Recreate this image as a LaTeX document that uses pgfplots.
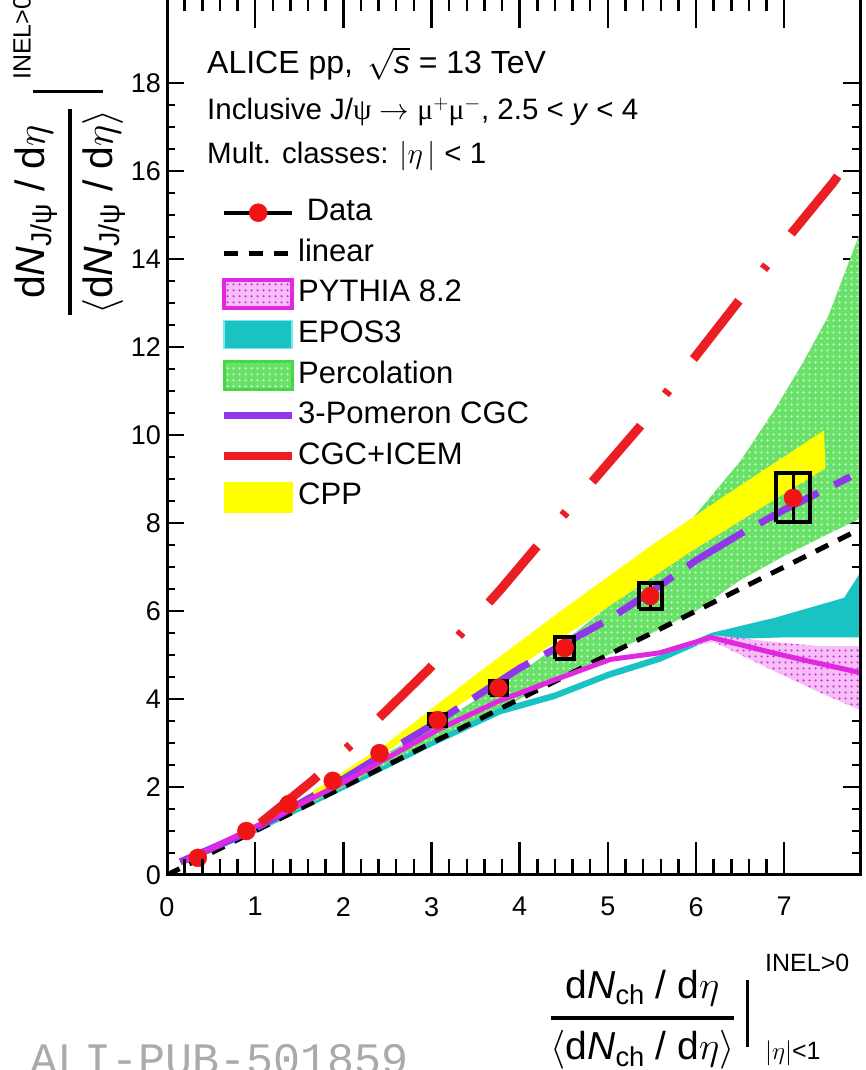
\RequirePackage{fix-cm}
\documentclass[border=0pt]{standalone}
\usepackage{amsmath}
\usepackage{fontspec}
\setmainfont{Liberation Sans}
\newfontfamily\monofont{Liberation Mono}
\newfontfamily\grk{Liberation Serif}
\usepackage{pgfplots}
\pgfplotsset{compat=1.18}
\usetikzlibrary{patterns,patterns.meta}

\definecolor{cgcred}{RGB}{235,30,35}
\definecolor{datared}{RGB}{240,20,20}
\definecolor{pymag}{RGB}{225,40,225}
\definecolor{pypink}{RGB}{246,190,246}
\definecolor{eposteal}{RGB}{25,195,195}
\definecolor{eposedge}{RGB}{120,235,235}
\definecolor{percgreen}{RGB}{105,225,105}
\definecolor{percdot}{RGB}{205,248,205}
\definecolor{percedge}{RGB}{70,215,70}
\definecolor{pomviolet}{RGB}{145,55,235}
\definecolor{cppyellow}{RGB}{255,255,0}
\definecolor{wmgray}{RGB}{170,170,170}

\begin{document}
\begin{tikzpicture}[x=1bp,y=1bp]
\begin{axis}[
  at={(167bp,195bp)}, anchor=south west,
  scale only axis, width=693bp, height=880bp,
  xmin=0, xmax=7.86, ymin=0, ymax=20,
  axis line style={line width=3bp},
  xtick=\empty,
  ytick={0,2,...,18}, minor y tick num=3,
  major tick length=17bp, minor tick length=8bp,
  tick style={line width=2.5bp, black},
  tick label style={font=\fontsize{27bp}{32bp}\selectfont},
  /pgf/number format/assume math mode=true,
  yticklabel style={inner sep=0pt, xshift=-6bp},
  legend style={at={(rel axis cs:0.0765,0.771)}, anchor=north west,
    draw=none, fill=none, inner sep=0pt, row sep=8.6bp,
    font=\fontsize{31bp}{36bp}\selectfont,
    nodes={inner sep=2bp, text height=22bp, text depth=6bp},
    /tikz/every even column/.append style={column sep=6bp}},
  legend cell align=left,
]
% Percolation band
\addplot[draw=none, fill=percgreen, postaction={pattern={Dots[distance=6bp,radius=1.4bp]}, pattern color=percdot}, forget plot]
  coordinates {(1.0,1.05) (2.0,2.2) (3.0,3.35) (4.0,4.6) (4.5,5.3) (5.0,6.1) (5.5,7.1) (6.0,8.2) (6.5,9.4) (6.9,10.6) (7.2,11.6) (7.5,12.7) (7.86,14.6)
               (7.86,8.1) (7.5,7.75) (7.0,7.25) (6.5,6.7) (6.0,6.0) (5.5,5.5) (5.0,5.0) (4.0,4.0) (3.0,3.0) (2.0,2.0) (1.0,1.0)};
% CPP band
\addplot[draw=none, fill=cppyellow, forget plot]
  coordinates {(1.0,1.05) (2.5,3.0) (3.5,4.55) (4.5,6.05) (5.5,7.5) (6.5,8.85) (7.45,10.1)
               (7.47,9.25) (5.94,7.35) (3.79,4.47) (2.4,2.7) (1.0,1.0)};
% EPOS3 band
\addplot[draw=none, fill=eposteal, forget plot]
  coordinates {(0.2,0.3) (1.0,1.0) (2.0,2.0) (3.0,3.05) (3.78,3.8) (4.4,4.15) (5.0,4.62) (5.6,5.0) (6.17,5.5) (6.9,5.85) (7.68,6.3) (7.86,6.86)
               (7.86,5.4) (7.0,5.4) (6.17,5.35) (5.6,4.85) (5.0,4.47) (4.4,4.0) (3.78,3.65) (3.0,2.92) (2.0,1.93) (1.0,0.95) (0.2,0.25)};
% PYTHIA band
\addplot[draw=none, fill=pypink, postaction={pattern={Dots[distance=6bp,radius=1.4bp]}, pattern color=pymag}, forget plot]
  coordinates {(5.8,5.2) (6.2,5.45) (6.87,5.3) (7.4,5.2) (7.86,5.2) (7.86,3.75) (7.4,4.15) (6.87,4.65) (6.2,5.3) (5.8,5.15)};
% linear scaling
\addplot[black, line width=5bp, dash pattern=on 14bp off 11bp, forget plot]
  coordinates {(0,0) (7.86,7.86)};
% 3-Pomeron CGC
\addplot[pomviolet, line width=7bp, dash pattern=on 66bp off 18bp, forget plot]
  coordinates {(0.15,0.3) (0.5,0.6) (1.0,1.05) (1.5,1.62) (2.0,2.18) (2.5,2.8) (3.0,3.4) (3.5,4.05) (4.0,4.7) (4.5,5.25) (5.0,5.8) (5.5,6.45) (6.0,7.15) (6.5,7.75) (7.0,8.3) (7.5,8.8) (7.75,9.05)};
% PYTHIA central line
\addplot[pymag, line width=5bp, forget plot]
  coordinates {(0.18,0.3) (0.5,0.6) (0.9,1.0) (1.4,1.5) (2.0,2.1) (2.4,2.55) (3.07,3.3) (3.76,3.95) (4.35,4.4) (5.03,4.9) (5.59,5.05) (6.17,5.4) (6.87,5.05) (7.3,4.85) (7.86,4.6)};
% CGC+ICEM
\addplot[cgcred, line width=9bp, dash pattern=on 74bp off 40bp on 5bp off 40bp, forget plot]
  coordinates {(1.06,1.18) (1.66,2.16) (2.36,3.48) (2.97,4.68) (3.78,6.48) (4.48,8.14) (5.35,10.16) (5.98,11.75) (7.09,14.6) (7.56,15.75) (7.86,16.6)};
% systematic boxes
\addplot[black, line width=4bp, forget plot] coordinates {(2.97,3.39) (3.17,3.39) (3.17,3.65) (2.97,3.65) (2.97,3.39)};
\addplot[black, line width=4bp, forget plot] coordinates {(3.66,4.08) (3.86,4.08) (3.86,4.42) (3.66,4.42) (3.66,4.08)};
\addplot[black, line width=4bp, forget plot] coordinates {(4.40,4.91) (4.62,4.91) (4.62,5.41) (4.40,5.41) (4.40,4.91)};
\addplot[black, line width=4bp, forget plot] coordinates {(5.35,6.04) (5.61,6.04) (5.61,6.64) (5.35,6.64) (5.35,6.04)};
\addplot[black, line width=4bp, forget plot] coordinates {(6.91,8.02) (7.29,8.02) (7.29,9.13) (6.91,9.13) (6.91,8.02)};
% data with statistical errors
\addplot[forget plot, only marks, mark=*, mark size=9bp, mark options={draw=datared, fill=datared},
  error bars/.cd, y dir=both, y explicit, error mark=none,
  error bar style={black, line width=3bp}]
  coordinates {(0.35,0.39) +- (0,0.02) (0.9,1.0) +- (0,0.03) (1.38,1.61) +- (0,0.04) (1.88,2.14) +- (0,0.05)
               (2.41,2.77) +- (0,0.06) (3.07,3.52) +- (0,0.08) (3.76,4.25) +- (0,0.12) (4.51,5.16) +- (0,0.18)
               (5.48,6.34) +- (0,0.3) (7.1,8.57) +- (0,0.55)};
% legend
\addlegendimage{legend image code/.code={\draw[black,line width=4bp,mark=*,mark size=9bp,mark options={draw=datared,fill=datared,line width=0.5bp},mark repeat=2,mark phase=2] plot coordinates {(0bp,0bp) (34bp,0bp) (68bp,0bp)};}}
\addlegendentry{\ Data}
\addlegendimage{legend image code/.code={\draw[black,line width=5bp,dash pattern=on 14bp off 11bp] (0bp,0bp) -- (66bp,0bp);}}
\addlegendentry{linear}
\addlegendimage{legend image code/.code={\fill[pypink] (0bp,-14bp) rectangle (68bp,14bp); \fill[pattern={Dots[distance=6bp,radius=1.4bp]}, pattern color=pymag] (0bp,-14bp) rectangle (68bp,14bp); \draw[pymag,line width=3.5bp] (0bp,-14bp) rectangle (68bp,14bp);}}
\addlegendentry{PYTHIA 8.2}
\addlegendimage{legend image code/.code={\fill[eposteal] (0bp,-14bp) rectangle (68bp,14bp); \draw[eposedge,line width=1.5bp] (0bp,-14bp) rectangle (68bp,14bp);}}
\addlegendentry{EPOS3}
\addlegendimage{legend image code/.code={\fill[percgreen] (0bp,-14bp) rectangle (68bp,14bp); \fill[pattern={Dots[distance=6bp,radius=1.4bp]}, pattern color=percdot] (0bp,-14bp) rectangle (68bp,14bp); \draw[percedge,line width=3bp] (0bp,-14bp) rectangle (68bp,14bp);}}
\addlegendentry{Percolation}
\addlegendimage{legend image code/.code={\draw[pomviolet,line width=7bp] (0bp,0bp) -- (68bp,0bp);}}
\addlegendentry{3-Pomeron CGC}
\addlegendimage{legend image code/.code={\draw[cgcred,line width=8bp] (0bp,0bp) -- (68bp,0bp);}}
\addlegendentry{CGC+ICEM}
\addlegendimage{legend image code/.code={\fill[cppyellow] (0bp,-15bp) rectangle (68bp,15bp);}}
\addlegendentry{CPP}
\end{axis}
% x ticks and their labels, the ticks drawn longer than on the y axis
\begin{axis}[
  at={(167bp,195bp)}, anchor=south west,
  scale only axis, width=693bp, height=880bp,
  xmin=0, xmax=7.86, ymin=0, ymax=20,
  axis line style={line width=3bp},
  xtick={0,1,...,7}, minor x tick num=4,
  ytick=\empty,
  major tick length=33bp, minor tick length=16bp,
  tick style={line width=2.5bp, black},
  tick label style={font=\fontsize{27bp}{32bp}\selectfont},
  /pgf/number format/assume math mode=true,
  xticklabel style={inner sep=0pt, yshift=-22bp},
]
\end{axis}
% header
\node[anchor=base west, inner sep=0pt] at (207,996) {\fontsize{32bp}{38bp}\selectfont ALICE pp, \,$\sqrt{\text{\textit{s}}}$ = 13 TeV};
\node[anchor=base west, inner sep=0pt] at (207,950) {\fontsize{29.5bp}{35bp}\selectfont Inclusive J/{\grk ψ} $\rightarrow$ {\grk μ}$^{+}${\grk μ}$^{-}$, 2.5 < \textit{y} < 4};
\node[anchor=base west, inner sep=0pt] at (207,906) {\fontsize{29.5bp}{35bp}\selectfont Mult. classes: $|\eta\,|$ < 1};
% x-axis title
\node[anchor=base, inner sep=0pt] at (642.5,42) {\fontsize{39bp}{47bp}\selectfont $\genfrac{}{}{3.5bp}{0}{\text{d}\textit{N}_{\text{ch}}\text{ / d}\eta}{\langle\text{d}\textit{N}_{\text{ch}}\text{ / d}\eta\rangle}$};
\draw[line width=3bp] (747,90) -- (747,23);
\node[anchor=west, inner sep=0pt] at (765,107) {\fontsize{25bp}{30bp}\selectfont INEL>0};
\node[anchor=west, inner sep=0pt] at (765,17) {\fontsize{25bp}{30bp}\selectfont $|\eta|$<1};
% y-axis title
\node[rotate=90, anchor=base, inner sep=0pt] at (80,858) {\fontsize{41bp}{49bp}\selectfont $\genfrac{}{}{3.5bp}{0}{\text{d}\textit{N}_{\text{J/ψ}}\text{ / d}\eta}{\langle\text{d}\textit{N}_{\text{J/ψ}}\text{ / d}\eta\rangle}$};
\draw[line width=3bp] (33,978) -- (103,978);
\node[rotate=90, anchor=west, inner sep=0pt] at (22,990) {\fontsize{25bp}{30bp}\selectfont INEL>0};
% publication tag
\node[anchor=base west, inner sep=0pt, text=wmgray] at (30,-4) {\monofont\fontsize{45bp}{54bp}\selectfont ALI-PUB-501859};
\pgfresetboundingbox
\path[use as bounding box] (0,0) rectangle (866,1070);
\end{tikzpicture}
\end{document}
